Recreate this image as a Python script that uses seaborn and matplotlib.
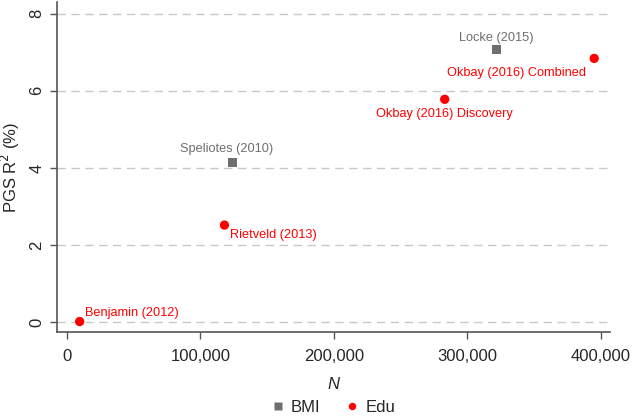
import matplotlib
matplotlib.use("Agg")
import matplotlib.pyplot as plt
import matplotlib.ticker as mticker
import pandas as pd
import seaborn as sns

# Data
studies = ["Benjamin (2012)", "Rietveld (2013)", "Speliotes (2010)",
           "Okbay (2016) Discovery", "Locke (2015)", "Okbay (2016) Combined"]
trait = ["Edu", "Edu", "BMI", "Edu", "BMI", "Edu"]
n_gwas = [9500, 118000, 124000, 283000, 322000, 395000]
r2 = [0.02, 2.52, 4.15, 5.78, 7.07, 6.84]

# label placement (offset points, alignment)
label_pos = {
    "Benjamin (2012)": ((4, 2), "left", "bottom"),
    "Rietveld (2013)": ((4, -3), "left", "top"),
    "Speliotes (2010)": ((-4, 5), "center", "bottom"),
    "Okbay (2016) Discovery": ((0, -6), "center", "top"),
    "Locke (2015)": ((0, 4), "center", "bottom"),
    "Okbay (2016) Combined": ((-6, -6), "right", "top"),
}

df = pd.DataFrame({"study": studies, "trait": trait, "N": n_gwas, "r2": r2})

sns.set_style("white")
plt.rcParams["font.family"] = ["Liberation Sans", "DejaVu Sans"]

colors = {"BMI": "#6e6e6e", "Edu": "#ff0000"}
markers = {"BMI": "s", "Edu": "o"}

fig = plt.figure(figsize=(6.33, 4.16), dpi=100)
ax = fig.add_axes([0.09, 0.202, 0.874, 0.793])

for y in [0, 2, 4, 6, 8]:
    ax.axhline(y, color="#c8c8c8", lw=1, ls=(0, (6, 4)), zorder=0)

sns.scatterplot(data=df, x="N", y="r2", hue="trait", style="trait",
                hue_order=["BMI", "Edu"], style_order=["BMI", "Edu"],
                palette=colors, markers=markers, s=45, edgecolor="none",
                ax=ax, zorder=3)

for _, row in df.iterrows():
    (dx, dy), ha, va = label_pos[row["study"]]
    ax.annotate(row["study"], (row["N"], row["r2"]), xytext=(dx, dy),
                textcoords="offset points", ha=ha, va=va, fontsize=9.2,
                color=colors[row["trait"]])

ax.set_xlim(-7500, 407000)
ax.set_ylim(-0.25, 8.3)
ax.set_xticks([0, 100000, 200000, 300000, 400000])
ax.xaxis.set_major_formatter(mticker.FuncFormatter(lambda v, p: f"{int(v):,}"))
ax.set_yticks([0, 2, 4, 6, 8])
ax.tick_params(axis="both", labelsize=12, length=5, width=1, color="#555555",
               direction="out", left=True, bottom=True, pad=4)
ax.tick_params(axis="x", pad=7)
for lab in ax.get_yticklabels():
    lab.set_rotation(90)
    lab.set_va("center")

for side in ["top", "right"]:
    ax.spines[side].set_visible(False)
for side in ["left", "bottom"]:
    ax.spines[side].set_color("#555555")
    ax.spines[side].set_linewidth(1.2)

ax.set_xlabel("N", fontsize=12, fontstyle="italic")
ax.xaxis.set_label_coords(0.5, -0.135)
ax.set_ylabel("PGS R$^2$ (%)", fontsize=12)
ax.yaxis.set_label_coords(-0.063, 0.5)

leg = ax.legend(loc="center", bbox_to_anchor=(0.525, 0.021),
                bbox_transform=fig.transFigure, ncol=2,
                frameon=False, fontsize=12, handlelength=1.0, handletextpad=0.3,
                columnspacing=1.4, markerscale=0.8, borderpad=0.0)
leg.set_title(None)

fig.savefig("out.png", dpi=100)
